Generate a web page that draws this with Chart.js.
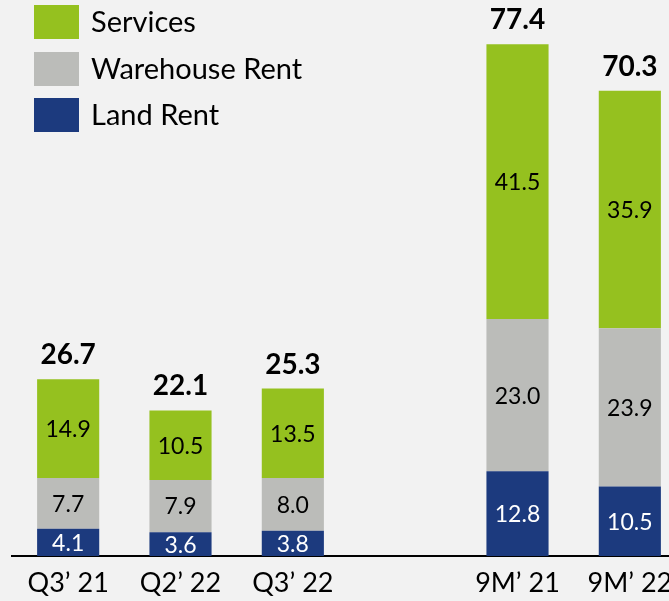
<!DOCTYPE html>
<html>
<head>
<meta charset="utf-8">
<script src="https://cdn.jsdelivr.net/npm/chart.js@4/dist/chart.umd.min.js"></script>
<style>
  html, body { margin: 0; padding: 0; background: #f2f2f2; overflow: hidden; width: 669px; height: 601px; }
  #wrap { position: absolute; left: 0; top: 0; width: 700px; height: 601px; }
</style>
</head>
<body>
<div id="wrap"><canvas id="c" width="700" height="601"></canvas></div>
<script>
const categories = ["Q3\u2019 21", "Q2\u2019 22", "Q3\u2019 22", "", "9M\u2019 21", "9M\u2019 22"];
const landRent = [4.1, 3.6, 3.8, null, 12.8, 10.5];
const warehouseRent = [7.7, 7.9, 8.0, null, 23.0, 23.9];
const services = [14.9, 10.5, 13.5, null, 41.5, 35.9];
const totals = [26.7, 22.1, 25.3, null, 77.4, 70.3];

const FONT = "Lato, 'Open Sans', sans-serif";
const COLORS = { services: "#95c11f", warehouse: "#bbbcb9", land: "#1c3a7e" };

const labelPlugin = {
  id: "labels",
  afterDatasetsDraw(chart) {
    const ctx = chart.ctx;
    ctx.save();
    ctx.textAlign = "center";
    ctx.textBaseline = "middle";
    chart.data.datasets.forEach((ds, di) => {
      const meta = chart.getDatasetMeta(di);
      meta.data.forEach((el, i) => {
        const v = ds.data[i];
        if (v == null) return;
        ctx.font = "23px " + FONT;
        ctx.fillStyle = ds.labelColor;
        ctx.fillText(v.toFixed(1), el.x, (el.y + el.base) / 2 + 1);
      });
    });
    const topMeta = chart.getDatasetMeta(chart.data.datasets.length - 1);
    topMeta.data.forEach((el, i) => {
      if (totals[i] == null) return;
      ctx.font = "bold 28px " + FONT;
      ctx.fillStyle = "#000";
      ctx.fillText(totals[i].toFixed(1), el.x, el.y - 24);
    });
    ctx.restore();
  },
  afterDraw(chart) {
    const ctx = chart.ctx;
    ctx.save();
    const items = chart.data.datasets.slice().reverse();
    const ys = [5, 52, 98];
    items.forEach((ds, k) => {
      ctx.fillStyle = ds.backgroundColor;
      ctx.fillRect(34, ys[k], 45, 34);
      ctx.fillStyle = "#000";
      ctx.font = "29px " + FONT;
      ctx.textAlign = "left";
      ctx.textBaseline = "middle";
      ctx.fillText(ds.label, 91, ys[k] + 18);
    });
    ctx.restore();
  }
};

new Chart(document.getElementById("c"), {
  type: "bar",
  data: {
    labels: categories,
    datasets: [
      { label: "Land Rent", data: landRent, backgroundColor: COLORS.land, labelColor: "#fff" },
      { label: "Warehouse Rent", data: warehouseRent, backgroundColor: COLORS.warehouse, labelColor: "#000" },
      { label: "Services", data: services, backgroundColor: COLORS.services, labelColor: "#000" }
    ]
  },
  options: {
    responsive: false,
    animation: false,
    events: [],
    layout: { padding: { left: 12, right: 14, top: 0, bottom: 0 } },
    datasets: { bar: { categoryPercentage: 1, barPercentage: 0.553, borderWidth: 0 } },
    plugins: { legend: { display: false }, tooltip: { enabled: false } },
    scales: {
      x: {
        stacked: true,
        grid: { display: false, drawTicks: false },
        border: { display: true, color: "#000", width: 2 },
        ticks: { color: "#000", font: { family: FONT, size: 27 }, padding: 11, maxRotation: 0, autoSkip: false },
        afterFit(s) { s.height = 45; }
      },
      y: {
        stacked: true,
        display: false,
        min: 0,
        max: 84
      }
    }
  },
  plugins: [labelPlugin]
});
</script>
</body>
</html>
